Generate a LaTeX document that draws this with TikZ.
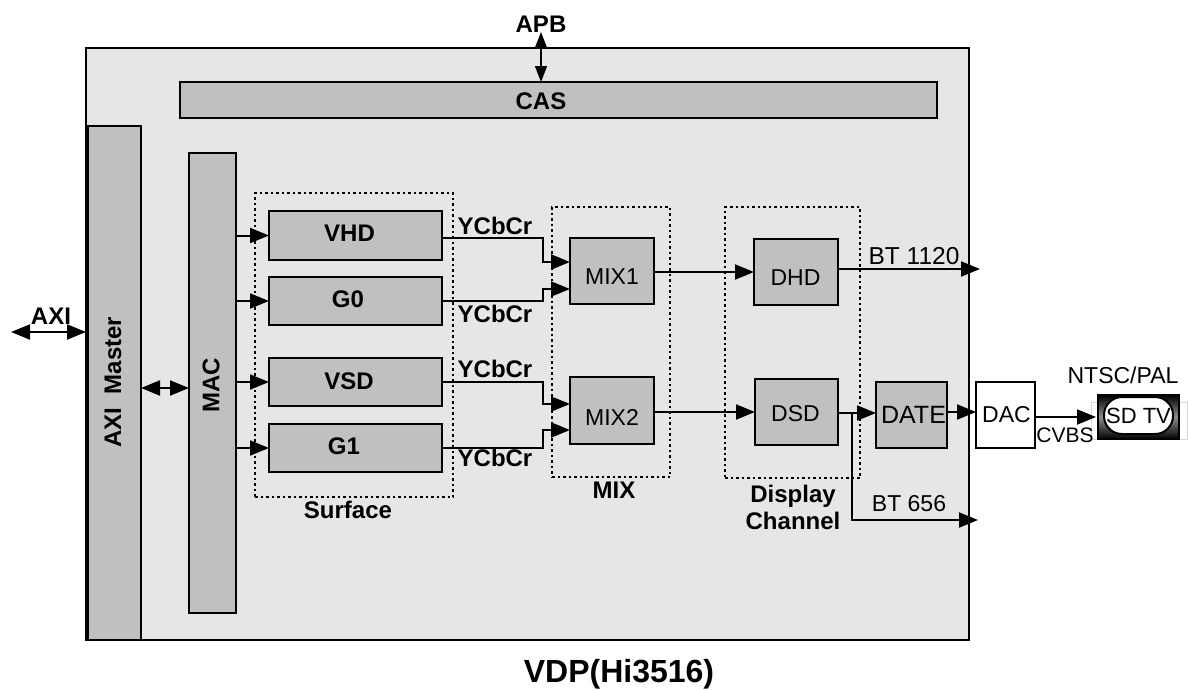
\documentclass[tikz,border=0pt]{standalone}
\usepackage{fontspec}
\setmainfont{Liberation Sans}
\usetikzlibrary{arrows.meta,calc}
\definecolor{chipgray}{HTML}{E6E6E6}
\definecolor{blockgray}{HTML}{C0C0C0}
\tikzset{
    blockbox/.style={draw, line width=2pt, fill=blockgray, inner sep=0pt, outer sep=0pt},
    groupbox/.style={draw, line width=2pt, dash pattern=on 2.5pt off 3pt, inner sep=0pt, outer sep=0pt},
    boldlabel/.style={font=\fontsize{24}{27}\selectfont\bfseries, inner sep=0pt},
    thinlabel/.style={font=\fontsize{23}{26}\selectfont, inner sep=0pt},
    link/.style={line width=2pt, -{Triangle[length=19pt,width=15pt]}},
    duplex/.style={line width=2pt, {Triangle[length=19pt,width=15pt]}-{Triangle[length=19pt,width=15pt]}},
    slimduplex/.style={line width=1.5pt, {Triangle[length=16pt,width=12pt]}-{Triangle[length=16pt,width=12pt]}}
}
\begin{document}
\begin{tikzpicture}[x=1pt, y=-1pt]
    \useasboundingbox (0,0) rectangle (1189,689);

    % ==================== CHIP ====================
    \node[draw, line width=2pt, fill=chipgray, minimum width=883pt, minimum height=592pt, inner sep=0pt, outer sep=0pt] (chip) at (527.5,344) {};
    \node[blockbox, minimum width=757pt, minimum height=36pt] (cas) at (558.5,100) {};
    \node[boldlabel] at (541,101) {CAS};
    \node[blockbox, minimum width=53pt, minimum height=514pt] (axim) at (114.5,383) {};
    \node[boldlabel, rotate=90] at (113,382) {AXI\ \ Master};
    \node[blockbox, minimum width=47pt, minimum height=460pt] (mac) at (212.5,383) {};
    \node[boldlabel, rotate=90] at (211,385) {MAC};

    % ==================== GROUPS ====================
    \node[groupbox, minimum width=198pt, minimum height=304pt] (surface) at (354,345) {};
    \node[groupbox, minimum width=118pt, minimum height=270pt] (mixgroup) at (611,342) {};
    \node[groupbox, minimum width=135pt, minimum height=271pt] (display) at (792.5,342.5) {};
    \node[boldlabel] at (348,510) {Surface};
    \node[boldlabel] at (614,490) {MIX};
    \node[boldlabel, align=center] at (793,507) {Display\\Channel};

    % ==================== BLOCKS ====================
    \node[blockbox, minimum width=173pt, minimum height=49pt] (vhd) at (355.5,235.5) {};
    \node[blockbox, minimum width=173pt, minimum height=48pt] (g0) at (355.5,301) {};
    \node[blockbox, minimum width=173pt, minimum height=48pt] (vsd) at (355.5,382) {};
    \node[blockbox, minimum width=173pt, minimum height=48pt] (g1) at (355.5,448) {};
    \node[blockbox, minimum width=84pt, minimum height=66pt] (mix1) at (612,271) {};
    \node[blockbox, minimum width=84pt, minimum height=67pt] (mix2) at (612,410.5) {};
    \node[blockbox, minimum width=84pt, minimum height=66pt] (dhd) at (796,272) {};
    \node[blockbox, minimum width=83pt, minimum height=66pt] (dsd) at (796.5,412) {};
    \node[blockbox, minimum width=71pt, minimum height=66pt] (date) at (911.5,415) {};
    \node[draw, line width=2pt, fill=white, minimum width=59pt, minimum height=66pt, inner sep=0pt, outer sep=0pt] (dac) at (1005.5,415) {};

    \node[boldlabel] at (349.5,233) {VHD};
    \node[boldlabel] at (348,299) {G0};
    \node[boldlabel] at (349,381) {VSD};
    \node[boldlabel] at (344,446) {G1};
    \node[thinlabel] at (612,277) {MIX1};
    \node[thinlabel] at (612,417) {MIX2};
    \node[thinlabel] at (795.5,278) {DHD};
    \node[thinlabel] at (795.5,414) {DSD};
    \node[font=\fontsize{25}{28}\selectfont, inner sep=0pt] at (913.5,415) {DATE};
    \node[thinlabel] at (1006.5,415) {DAC};

    % ==================== TV ====================
    \node[draw=black!15, line width=1pt, minimum width=96pt, minimum height=37pt, inner sep=0pt] (tvback) at (1139,420.5) {};
    \node[draw, line width=1.5pt, top color=black, bottom color=black, middle color=black!45, minimum width=81pt, minimum height=44pt, inner sep=0pt, outer sep=0pt] (tv) at (1138.5,417) {};
    \node[draw, line width=2pt, fill=white, rounded corners=18pt, minimum width=69pt, minimum height=37pt, inner sep=0pt, outer sep=0pt, font=\fontsize{22}{25}\selectfont] (sdtv) at (1138.5,415.5) {SD TV};
    \node[thinlabel] at (1123,375) {NTSC/PAL};

    % ==================== FREE ENDS ====================
    \coordinate (apbend) at (541,32);
    \coordinate (axiend) at (11,332);
    \coordinate (bt1120end) at (980,269);
    \coordinate (bt656end) at (978,520);
    \coordinate (dsdsplit) at (852,413);

    % ==================== CONNECTORS ====================
    \draw[slimduplex] (apbend) -- (apbend |- cas.north);
    \draw[duplex] (axiend) -- (axiend -| chip.west);
    \draw[duplex] (axim.east |- 0,388) -- (mac.west |- 0,388);

    \draw[link] (mac.east |- vhd.west) -- (vhd.west);
    \draw[link] (mac.east |- g0.west) -- (g0.west);
    \draw[link] (mac.east |- vsd.west) -- (vsd.west);
    \draw[link] (mac.east |- g1.west) -- (g1.west);

    \draw[link] ($(vhd.east)+(0,2.5)$) -| (543,262) -- ($(mix1.west)+(0,-9)$);
    \draw[link] (g0.east) -| (543,289) -- ($(mix1.west)+(0,18)$);
    \draw[link] (vsd.east) -| (543,404) -- ($(mix2.west)+(0,-6.5)$);
    \draw[link] (g1.east) -| (543,430) -- ($(mix2.west)+(0,19.5)$);

    \draw[link] (mix1.east |- dhd.west) -- (dhd.west);
    \draw[link] (mix2.east |- dsd.west) -- (dsd.west);
    \draw[link] (dhd.east |- bt1120end) -- (bt1120end);
    \draw[link] (dsd.east |- dsdsplit) -- (date.west |- dsdsplit);
    \draw[link] (dsdsplit) |- (bt656end);
    \draw[link] (date.east |- 0,412) -- (dac.west |- 0,412);
    \draw[link] ($(dac.east)+(0,2)$) -- ($(tv.west)+(-2,0)$);

    % ==================== LABELS ====================
    \node[boldlabel] at (541,24) {APB};
    \node[boldlabel] at (51,316) {AXI};
    \node[boldlabel] at (495,226) {YCbCr};
    \node[boldlabel] at (495,314) {YCbCr};
    \node[boldlabel] at (495,369) {YCbCr};
    \node[boldlabel] at (495,458) {YCbCr};
    \node[font=\fontsize{24.5}{27}\selectfont, inner sep=0pt] at (914,256) {BT 1120};
    \node[thinlabel] at (909,504) {BT 656};
    \node[font=\fontsize{21}{24}\selectfont, inner sep=0pt] at (1065,435) {CVBS};
    \node[font=\fontsize{32}{36}\selectfont\bfseries, inner sep=0pt] at (619,674) {VDP(Hi3516)};
\end{tikzpicture}
\end{document}
